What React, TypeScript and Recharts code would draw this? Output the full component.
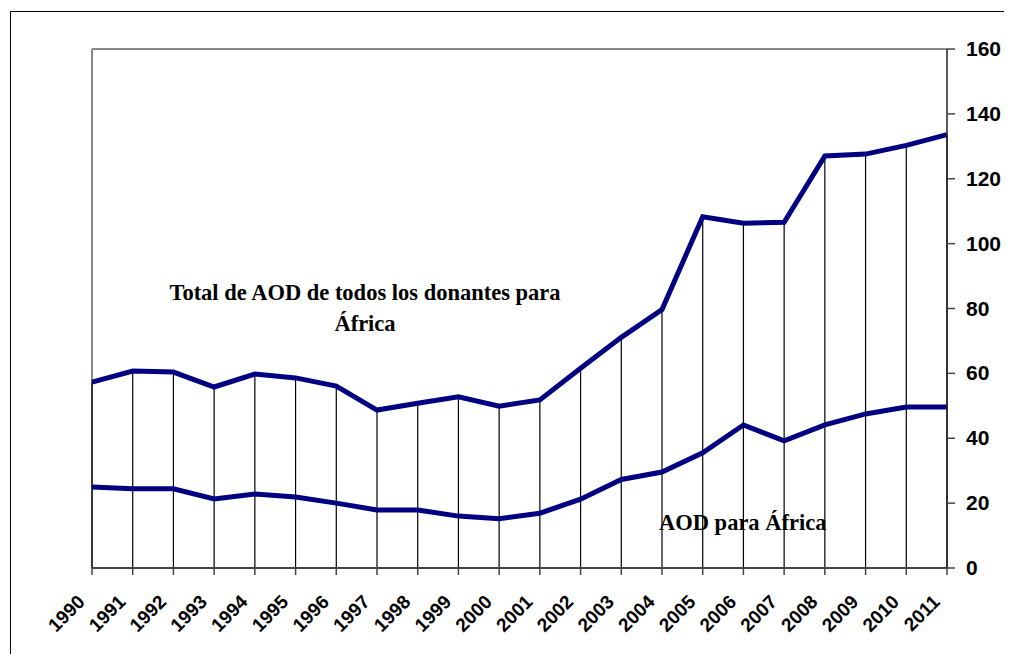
import React from 'react';
import { ComposedChart, Line, XAxis, YAxis, ReferenceLine } from 'recharts';

const years = ['1990','1991','1992','1993','1994','1995','1996','1997','1998','1999','2000','2001','2002','2003','2004','2005','2006','2007','2008','2009','2010','2011'];
const totalAOD = [57.3, 60.7, 60.4, 55.8, 59.8, 58.6, 56.1, 48.7, 50.8, 52.8, 49.9, 51.8, 61.6, 71.1, 79.7, 108.3, 106.3, 106.6, 127.0, 127.6, 130.3, 133.6];
const africaAOD = [25.0, 24.4, 24.4, 21.3, 22.8, 21.9, 20.0, 17.9, 17.9, 16.0, 15.2, 16.9, 21.2, 27.3, 29.6, 35.5, 44.1, 39.2, 44.1, 47.5, 49.6, 49.6];
const yTicks = [0, 20, 40, 60, 80, 100, 120, 140, 160];

const data = years.map((y, i) => ({ year: y, total: totalAOD[i], africa: africaAOD[i] }));

const XTick = (props: any) => {
  const { x, y, payload } = props;
  const ax = x - 6;
  const ay = y + 26;
  return (
    <text x={ax} y={ay} transform={`rotate(-45, ${ax}, ${ay})`} textAnchor="end"
      fontFamily="Liberation Sans, Arial, sans-serif" fontWeight="bold" fontSize={19} fill="#000">
      {payload.value}
    </text>
  );
};

const YTick = (props: any) => {
  const { x, y, payload } = props;
  return (
    <text x={x} y={y} dy={7} textAnchor="start"
      fontFamily="Liberation Sans, Arial, sans-serif" fontWeight="bold" fontSize={21} fill="#000">
      {payload.value}
    </text>
  );
};

export default function App() {
  return (
    <div style={{ position: 'relative', width: 1004, height: 646, overflow: 'hidden' }}>
      <style>{'html,body{overflow:hidden;}'}</style>
      <div style={{ position: 'absolute', left: 2, top: 3, width: 1010, height: 700, borderTop: '1.5px solid #000', borderLeft: '1.5px solid #000', boxSizing: 'border-box' }} />
      <div style={{ position: 'absolute', left: 0, top: 0 }}>
        <ComposedChart width={996} height={646} data={data} margin={{ top: 41, right: 0, bottom: 0, left: 84 }}>
          <XAxis dataKey="year" interval={0} tick={<XTick />} tickSize={7} tickLine={{ stroke: '#444', strokeWidth: 1.5 }}
            axisLine={{ stroke: '#444', strokeWidth: 2 }} height={86} padding={{ left: 0, right: 0 }} />
          <YAxis orientation="right" domain={[0, 160]} ticks={yTicks} width={57} tick={<YTick />} tickSize={8}
            tickMargin={11} tickLine={{ stroke: '#444', strokeWidth: 1.5 }} axisLine={{ stroke: '#222', strokeWidth: 1.5 }} />
          <ReferenceLine y={160} stroke="#888" strokeWidth={2} />
          <ReferenceLine x="1990" stroke="#888" strokeWidth={2} />
          {data.map((d) => (
            <ReferenceLine key={d.year} segment={[{ x: d.year, y: 0 }, { x: d.year, y: d.total }]} stroke="#000" strokeWidth={1.2} />
          ))}
          <Line dataKey="total" stroke="#000080" strokeWidth={5} dot={false} isAnimationActive={false} strokeLinejoin="miter" />
          <Line dataKey="africa" stroke="#000080" strokeWidth={5} dot={false} isAnimationActive={false} strokeLinejoin="miter" />
        </ComposedChart>
      </div>
      <div style={{ position: 'absolute', left: 120, top: 269, width: 474, textAlign: 'center', fontFamily: 'Liberation Serif, Times New Roman, serif', fontWeight: 'bold', fontSize: 22.5, lineHeight: '31px', color: '#000' }}>
        Total de AOD de todos los donantes para<br />África
      </div>
      <div style={{ position: 'absolute', left: 651, top: 502, fontFamily: 'Liberation Serif, Times New Roman, serif', fontWeight: 'bold', fontSize: 22.5, color: '#000', whiteSpace: 'nowrap' }}>
        AOD para África
      </div>
    </div>
  );
}
